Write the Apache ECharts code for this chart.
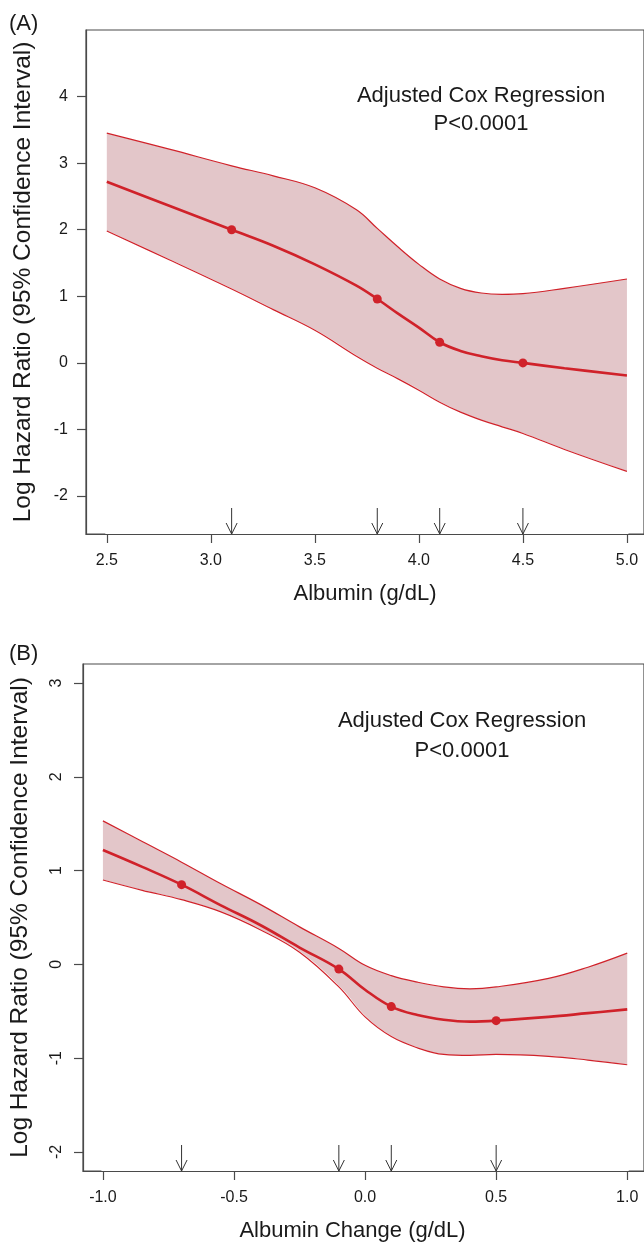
<!DOCTYPE html>
<html>
<head>
<meta charset="utf-8">
<script src="https://cdn.jsdelivr.net/npm/echarts@6/dist/echarts.min.js"></script>
<style>
  html, body { margin: 0; padding: 0; background: #fff; }
  #chart { width: 644px; height: 1244px; }
</style>
</head>
<body>
<div id="chart"></div>
<script>
// panel A: albumin
var xA = [2.5, 2.8, 3.1, 3.3, 3.5, 3.7, 3.8, 3.9, 4.0, 4.1, 4.2, 4.3, 4.4, 4.5, 4.7, 5.0];
var centerA = [2.72, 2.36, 2.00, 1.76, 1.48, 1.16, 0.96, 0.74, 0.53, 0.31, 0.18, 0.10, 0.04, 0.0, -0.08, -0.19];
var upperA = [3.45, 3.21, 2.96, 2.81, 2.63, 2.30, 2.02, 1.74, 1.48, 1.26, 1.12, 1.05, 1.03, 1.04, 1.12, 1.26];
var lowerA = [1.98, 1.55, 1.11, 0.80, 0.49, 0.10, -0.08, -0.24, -0.41, -0.59, -0.74, -0.86, -0.96, -1.06, -1.30, -1.63];
var knotsA = [3.1, 3.8, 4.1, 4.5];
var knotFitA = [2.00, 0.96, 0.31, 0.0];
var xTicksA = [2.5, 3.0, 3.5, 4.0, 4.5, 5.0];
var yTicksA = [-2, -1, 0, 1, 2, 3, 4];

// panel B: albumin change
var xB = [-1.0, -0.85, -0.7, -0.55, -0.4, -0.25, -0.1, 0.0, 0.1, 0.2, 0.3, 0.4, 0.5, 0.7, 0.85, 1.0];
var centerB = [1.22, 1.04, 0.85, 0.63, 0.42, 0.18, -0.05, -0.27, -0.45, -0.54, -0.59, -0.61, -0.60, -0.56, -0.52, -0.48];
var upperB = [1.53, 1.31, 1.09, 0.86, 0.64, 0.40, 0.17, -0.01, -0.12, -0.19, -0.24, -0.26, -0.24, -0.15, -0.03, 0.12];
var lowerB = [0.90, 0.79, 0.69, 0.56, 0.37, 0.13, -0.24, -0.56, -0.77, -0.89, -0.96, -0.97, -0.96, -0.98, -1.02, -1.07];
var knotsB = [-0.7, -0.1, 0.1, 0.5];
var knotFitB = [0.85, -0.05, -0.45, -0.60];
var xTicksB = [-1.0, -0.5, 0.0, 0.5, 1.0];
var yTicksB = [-2, -1, 0, 1, 2, 3];

var FONT = "'Liberation Sans', Arial, sans-serif";
var AXIS = "#4a4a4a";
var TXT = "#1a1a1a";
var RED = "#d0222a";
var FILL = "#e3c6c9";

function pairs(xs, ys) {
  return xs.map(function (x, i) { return [x, ys[i]]; });
}

// white fill under the lower bound, shadow nudged sideways to hide edge seams
function whiteUnder(base, xs, lower, dx) {
  return Object.assign({}, base, {
    type: "line", z: 2, smooth: 0.4, data: pairs(xs, lower), symbol: "none",
    lineStyle: { width: 0, opacity: 0 },
    areaStyle: { color: "#fff", opacity: 1, origin: "start", shadowColor: "#fff", shadowBlur: 0, shadowOffsetX: dx }
  });
}

function panelSeries(idx, xs, center, upper, lower, knots, knotFit, yMin) {
  var base = { xAxisIndex: idx, yAxisIndex: idx, silent: true, animation: false };
  return [
    Object.assign({}, base, {
      type: "line", z: 2, smooth: 0.4, data: pairs(xs, upper), symbol: "none",
      lineStyle: { width: 0, opacity: 0 },
      areaStyle: { color: FILL, opacity: 1, origin: "start" }
    }),
    whiteUnder(base, xs, lower, -1.5),
    whiteUnder(base, xs, lower, 1.5),
    Object.assign({}, base, {
      type: "line", z: 3, smooth: 0.4, data: pairs(xs, upper), symbol: "none",
      lineStyle: { color: RED, width: 1.2 }
    }),
    Object.assign({}, base, {
      type: "line", z: 3, smooth: 0.4, data: pairs(xs, lower), symbol: "none",
      lineStyle: { color: RED, width: 1.2 }
    }),
    Object.assign({}, base, {
      type: "line", z: 3, smooth: 0.4, data: pairs(xs, center), symbol: "none",
      lineStyle: { color: RED, width: 2.6 }
    }),
    Object.assign({}, base, {
      type: "scatter", z: 6, data: pairs(knots, knotFit), symbol: "circle", symbolSize: 9,
      itemStyle: { color: RED, opacity: 1 }
    }),
    Object.assign({}, base, {
      type: "custom",
      z: 10,
      data: knots.map(function (k) { return [k, yMin]; }),
      renderItem: function (params, api) {
        var p = api.coord([api.value(0), api.value(1)]);
        var st = { stroke: "#333", lineWidth: 1, fill: "none" };
        return {
          type: "group",
          children: [
            { type: "line", shape: { x1: p[0], y1: p[1] - 26, x2: p[0], y2: p[1] }, style: st },
            { type: "polyline", shape: { points: [[p[0] - 5.5, p[1] - 11], [p[0], p[1]], [p[0] + 5.5, p[1] - 11]] }, style: st }
          ]
        };
      }
    })
  ];
}

function xAxisOf(idx, min, max, ticks, name, namePad) {
  return {
    type: "value", gridIndex: idx, min: min, max: max, z: 5,
    name: name, nameLocation: "middle", nameGap: 49,
    nameTextStyle: { fontSize: 22, color: TXT, fontFamily: FONT, padding: namePad },
    axisLine: { show: true, onZero: false, lineStyle: { color: AXIS, width: 1.2 } },
    axisTick: { show: true, customValues: ticks, length: 9, lineStyle: { color: AXIS, width: 1.2 } },
    axisLabel: {
      customValues: ticks, margin: 19, fontSize: 16, color: TXT, fontFamily: FONT,
      formatter: function (v) { return Number(v).toFixed(1); }
    },
    splitLine: { show: false }
  };
}

function yAxisOf(idx, min, max, ticks, rotate) {
  return {
    type: "value", gridIndex: idx, min: min, max: max, z: 5,
    name: "Log Hazard Ratio (95% Confidence Interval)", nameLocation: "middle", nameGap: 50,
    nameTextStyle: { fontSize: 24.5, color: TXT, fontFamily: FONT },
    axisLine: { show: true, onZero: false, lineStyle: { color: AXIS, width: 1.2 } },
    axisTick: { show: true, customValues: ticks, length: 9, lineStyle: { color: AXIS, width: 1.2 } },
    axisLabel: {
      customValues: ticks, margin: 18, fontSize: 16, color: TXT, fontFamily: FONT, rotate: rotate
    },
    splitLine: { show: false }
  };
}

var chart = echarts.init(document.getElementById("chart"));
var option = {
  backgroundColor: "#fff",
  animation: false,
  grid: [
    { left: 86, top: 30, width: 560, height: 504, show: true, borderColor: AXIS, borderWidth: 1.2, backgroundColor: "transparent" },
    { left: 82, top: 664, width: 564, height: 507, show: true, borderColor: AXIS, borderWidth: 1.2, backgroundColor: "transparent" }
  ],
  xAxis: [
    xAxisOf(0, 2.4, 5.082, xTicksA, "Albumin (g/dL)", [0, 0, 0, 0]),
    xAxisOf(1, -1.076, 1.064, xTicksB, "Albumin Change (g/dL)", [0, 22, 0, 0])
  ],
  yAxis: [
    yAxisOf(0, -2.57, 5.0, yTicksA, 0),
    yAxisOf(1, -2.203, 3.203, yTicksB, 90)
  ],
  graphic: [
    { type: "text", left: 9, top: 13, style: { text: "(A)", fontSize: 22, fill: TXT, fontFamily: FONT } },
    { type: "text", left: 9, top: 643, style: { text: "(B)", fontSize: 22, fill: TXT, fontFamily: FONT } },
    { type: "text", x: 481, y: 110, z: 20, style: { text: "Adjusted Cox Regression\nP<0.0001", fontSize: 22, lineHeight: 28, fill: TXT, fontFamily: FONT, align: "center", verticalAlign: "middle" } },
    { type: "text", x: 462, y: 736, z: 20, style: { text: "Adjusted Cox Regression\nP<0.0001", fontSize: 22, lineHeight: 30, fill: TXT, fontFamily: FONT, align: "center", verticalAlign: "middle" } }
  ],
  series: []
    .concat(panelSeries(0, xA, centerA, upperA, lowerA, knotsA, knotFitA, -2.57))
    .concat(panelSeries(1, xB, centerB, upperB, lowerB, knotsB, knotFitB, -2.203))
};
chart.setOption(option);
</script>
</body>
</html>
